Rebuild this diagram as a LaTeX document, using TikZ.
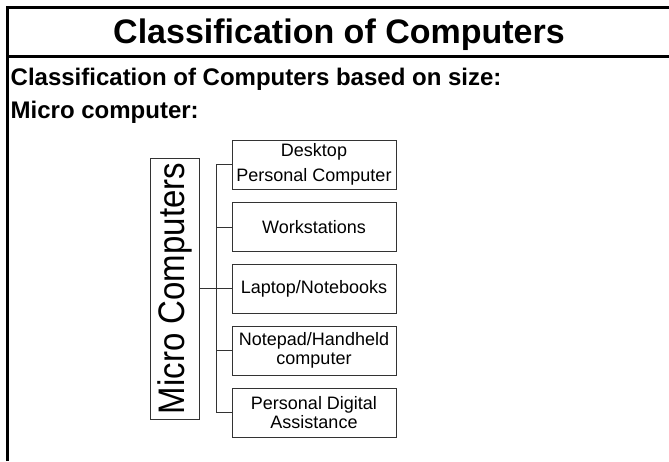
\documentclass[tikz,border=0pt]{standalone}
\usepackage{fontspec}
\usepackage{graphicx}
\setmainfont{Liberation Sans}
\begin{document}
\begin{tikzpicture}[x=1pt,y=-1pt,
  frame/.style={line width=3pt, black},
  leaf/.style={draw=black!80, line width=0.9pt, minimum width=164pt, minimum height=49pt,
    inner sep=0pt, align=center, font=\fontsize{18}{18.6}\selectfont},
  conn/.style={draw=black!80, line width=0.9pt},
  heading/.style={anchor=base west, inner sep=0pt, font=\fontsize{24}{28}\selectfont\bfseries}]
\useasboundingbox (0,0) rectangle (669,461);
\coordinate (tl) at (7.5,7.5);
\coordinate (tr) at (669,7.5);
\coordinate (bl) at (7.5,461);
\coordinate (ml) at (7.5,56.5);
\coordinate (mr) at (669,56.5);
\draw[frame] (bl) -- (tl) -- (tr);
\draw[frame, line width=3.5pt] (ml) -- (mr);
\node[anchor=base, inner sep=0pt, font=\fontsize{34}{40}\selectfont\bfseries] (title) at (339,43) {Classification of Computers};
\node[heading] (sub) at (10.5,85) {Classification of Computers based on size:};
\node[heading] (mc) at (10.5,118) {Micro computer:};
\node[draw=black!80, line width=0.9pt, rotate=90, minimum width=261pt, minimum height=49pt, inner sep=0pt,
  font=\fontsize{33}{40}\selectfont] (micro) at (175,288.5) {\scalebox{1}[1.12]{Micro Computers}};
\node[leaf] (desk) at (314,164.5) {Desktop\\[7pt]Personal Computer};
\node[leaf] (ws) at (314,227) {Workstations};
\node[leaf] (lap) at (314,288.5) {Laptop/Notebooks};
\node[leaf] (note) at (314,350.5) {Notepad/Handheld\\computer};
\node[leaf] (pda) at (314,412.5) {Personal Digital\\Assistance};
\coordinate (j) at (216.7,288.5);
\draw[conn] (micro.south) -- (j);
\draw[conn] (desk.west) -- (desk.west -| j) -- (pda.west -| j) -- (pda.west);
\draw[conn] (ws.west) -- (ws.west -| j);
\draw[conn] (lap.west) -- (lap.west -| j);
\draw[conn] (note.west) -- (note.west -| j);
\end{tikzpicture}
\end{document}
